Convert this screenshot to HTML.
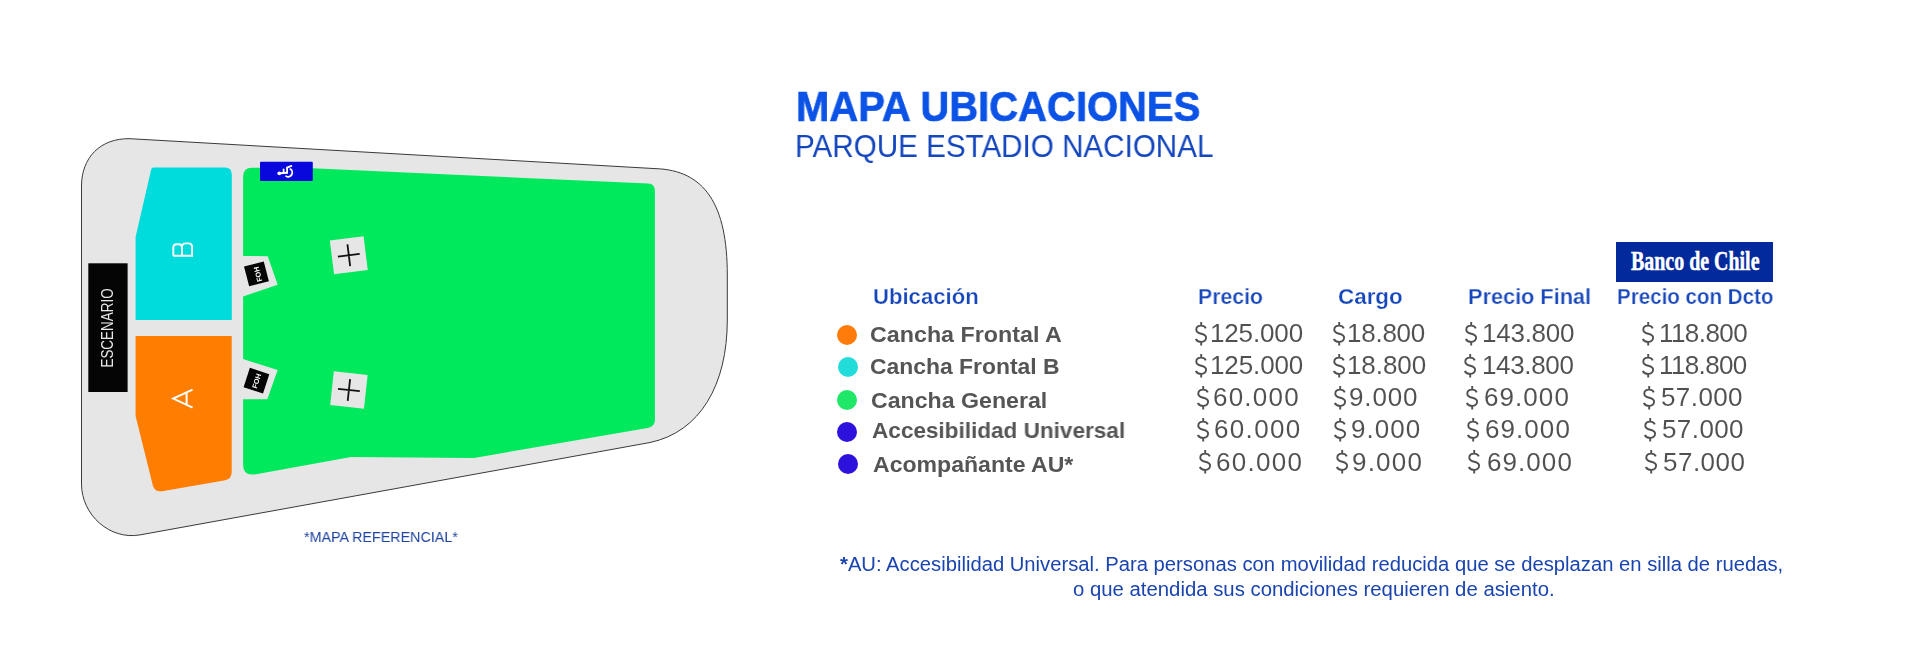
<!DOCTYPE html>
<html><head><meta charset="utf-8"><style>
html,body{margin:0;padding:0;background:#fff;width:1920px;height:647px;overflow:hidden;position:relative}
.t{position:absolute;white-space:nowrap;line-height:1;font-family:"Liberation Sans", sans-serif;transform-origin:0 0;will-change:transform}
.dot{position:absolute;width:20px;height:20px;border-radius:50%}
#banco{position:absolute;left:1616px;top:242px;width:157px;height:40px;background:#032a9c}
#bt{position:absolute;left:1631.2px;top:246.85px;font-family:"Liberation Serif",serif;font-weight:bold;color:#fff;font-size:28px;line-height:1;white-space:nowrap;transform-origin:0 0;transform:scaleX(0.712);-webkit-text-stroke:0.5px #fff}
svg{position:absolute;left:0;top:0}
.dl{position:absolute;overflow:visible}
</style></head><body>
<svg width="760" height="647" viewBox="0 0 760 647" style="will-change:transform">
<path d="M81.5 186 C81.5 158 100 138 130 138.7 L655 168.6 C705 170 727.3 205 727.3 275 L727.3 320 C727.3 385 700 432 650 442.5 L140 534.9 C110 540.3 81.5 515 81.5 484 Z" fill="#e6e6e6" stroke="#3a3a3a" stroke-width="1"/>
<path d="M153.5 167.6 L225 167.6 Q231.8 167.6 231.8 174.5 L231.8 320 L135.6 320 L135.6 237 L150.6 172 Q151.3 167.6 153.5 167.6 Z" fill="#00dbdb"/>
<path d="M135.6 336 L231.7 336 L231.7 472 Q231.7 479.5 224 480.5 L162 491.2 Q155 492.3 153 486 L135.6 416 Z" fill="#ff7d00"/>
<path d="M243.1 177 Q243.1 167.8 252 167.8 L312 168.2 L648 183.6 Q654.9 184 654.9 191 L654.9 420 Q654.9 426.5 647.5 428 L474 458 L351 457 L256 474.2 Q243.1 476.5 243.1 465 L243.1 399.2 L267.3 399.2 L277.7 369.9 L243.1 359.1 L243.1 296.4 L277.7 284.7 L267.7 256.3 L243.1 255.9 Z" fill="#00e85c"/>
<rect x="88.3" y="263.3" width="39.3" height="128.7" fill="#050505"/>
<text x="0" y="0" transform="translate(113.1 328) rotate(-90) scale(0.82 1)" text-anchor="middle" font-family="Liberation Sans" font-size="16.4" fill="#e8e8e8">ESCENARIO</text>
<path d="M173.3 255.8 H192.1 V247 Q192.1 243.4 188.4 243.4 H185.7 Q182 243.4 182 247 V255.8 M182 247.5 Q182 244.2 178.6 244.2 H176.7 Q173.3 244.2 173.3 247.6 V255.8" fill="none" stroke="#fff" stroke-width="1.9"/>
<path d="M192.6 389.7 L173.2 398.6 L192.6 407.6 M186.6 392.3 V404.8" fill="none" stroke="#fff" stroke-width="2" stroke-linejoin="miter"/>
<rect x="260" y="161.7" width="52.8" height="19.2" rx="1" fill="#0808dc"/>
<g fill="none" stroke="#fff" stroke-width="1.8" stroke-linecap="round">
<circle cx="279.3" cy="173.3" r="1.9" fill="#fff" stroke="none"/>
<path d="M280 173.2 L287 172.8" stroke-width="2"/>
<path d="M283.6 169.3 V172.6" stroke-width="1.7"/>
<path d="M287.1 167.6 V172.8"/>
<path d="M287.1 167.6 L291.4 165.9"/>
<path d="M290.4 169.1 A4.2 4.2 0 0 1 286.1 176.3"/>
</g>
<g transform="translate(256.45 273.9) rotate(-14.6)"><rect x="-10.2" y="-10.2" width="20.4" height="20.4" fill="#050505"/></g>
<text x="0" y="0" transform="translate(258 274.2) rotate(-104)" text-anchor="middle" dominant-baseline="central" font-family="Liberation Sans" font-weight="bold" font-size="7.2" fill="#fff">FOH</text>
<g transform="translate(256.45 380.7) rotate(17.9)"><rect x="-10.2" y="-10.2" width="20.4" height="20.4" fill="#050505"/></g>
<text x="0" y="0" transform="translate(256.6 380.9) rotate(-72)" text-anchor="middle" dominant-baseline="central" font-family="Liberation Sans" font-weight="bold" font-size="7.2" fill="#fff">FOH</text>
<g transform="translate(348.8 255.2) rotate(-7.1)"><rect x="-17" y="-17" width="34" height="34" fill="#e6e6e6"/><path d="M-11 0 H11 M0 -11 V11" stroke="#111" stroke-width="1.8"/></g>
<g transform="translate(348.9 390) rotate(6.2)"><rect x="-17" y="-17" width="34" height="34" fill="#e6e6e6"/><path d="M-11 0 H11 M0 -11 V11" stroke="#111" stroke-width="1.8"/></g>
</svg>

<div class="dot" style="left:837.3px;top:324.7px;background:#ff7c0a"></div>
<div class="dot" style="left:837.5px;top:357.2px;background:#22dcdc"></div>
<div class="dot" style="left:837.4px;top:389.7px;background:#1ee866"></div>
<div class="dot" style="left:836.7px;top:421.6px;background:#2c12dc"></div>
<div class="dot" style="left:837.7px;top:453.9px;background:#2c12dc"></div>
<div id="banco"></div><div id="bt">Banco de Chile</div>
<div class="t" id="t0" style="left:795.60px;top:84.54px;font-size:42.6px;color:#0b52e6;font-weight:bold;transform:scaleX(0.9388);letter-spacing:0.000px;-webkit-text-stroke:0.7px #0b52e6">MAPA UBICACIONES</div>
<div class="t" id="t1" style="left:795.43px;top:131.22px;font-size:31.4px;color:#1446be;font-weight:normal;transform:scaleX(0.9431);letter-spacing:0.000px;">PARQUE ESTADIO NACIONAL</div>
<div class="t" id="t2" style="left:873.07px;top:285.98px;font-size:22px;color:#1646bb;font-weight:bold;transform:scaleX(1.0052);letter-spacing:0.000px;-webkit-text-stroke:0.25px #fff">Ubicación</div>
<div class="t" id="t3" style="left:1197.61px;top:285.98px;font-size:22px;color:#1646bb;font-weight:bold;transform:scaleX(0.9657);letter-spacing:0.000px;-webkit-text-stroke:0.25px #fff">Precio</div>
<div class="t" id="t4" style="left:1337.90px;top:285.98px;font-size:22px;color:#1646bb;font-weight:bold;transform:scaleX(1.0179);letter-spacing:0.000px;-webkit-text-stroke:0.25px #fff">Cargo</div>
<div class="t" id="t5" style="left:1467.79px;top:285.98px;font-size:22px;color:#1646bb;font-weight:bold;transform:scaleX(0.9870);letter-spacing:0.000px;-webkit-text-stroke:0.25px #fff">Precio Final</div>
<div class="t" id="t6" style="left:1617.07px;top:285.98px;font-size:22px;color:#1646bb;font-weight:bold;transform:scaleX(0.9343);letter-spacing:0.000px;-webkit-text-stroke:0.25px #fff">Precio con Dcto</div>
<div class="t" id="t7" style="left:869.67px;top:324.27px;font-size:22.6px;color:#555555;font-weight:bold;transform:scaleX(1.0297);letter-spacing:0.000px;">Cancha Frontal A</div>
<div class="t" id="t8" style="left:869.88px;top:356.27px;font-size:22.6px;color:#555555;font-weight:bold;transform:scaleX(1.0138);letter-spacing:0.000px;">Cancha Frontal B</div>
<div class="t" id="t9" style="left:870.87px;top:389.67px;font-size:22.6px;color:#555555;font-weight:bold;transform:scaleX(1.0245);letter-spacing:0.000px;">Cancha General</div>
<div class="t" id="t10" style="left:871.75px;top:420.47px;font-size:22.6px;color:#555555;font-weight:bold;transform:scaleX(0.9978);letter-spacing:0.000px;">Accesibilidad Universal</div>
<div class="t" id="t11" style="left:872.74px;top:453.67px;font-size:22.6px;color:#555555;font-weight:bold;transform:scaleX(1.0207);letter-spacing:0.000px;">Acompañante AU*</div>
<div class="t" id="t12" style="left:1210.05px;top:319.59px;font-size:26px;color:#505050;font-weight:normal;transform:scaleX(1.0000);letter-spacing:-0.149px;-webkit-text-stroke:0.05px #fff">125.000</div>
<div class="t" id="t13" style="left:1210.25px;top:351.99px;font-size:26px;color:#505050;font-weight:normal;transform:scaleX(1.0000);letter-spacing:-0.116px;-webkit-text-stroke:0.05px #fff">125.000</div>
<div class="t" id="t14" style="left:1213.10px;top:384.39px;font-size:26px;color:#505050;font-weight:normal;transform:scaleX(1.0000);letter-spacing:1.223px;-webkit-text-stroke:0.05px #fff">60.000</div>
<div class="t" id="t15" style="left:1213.50px;top:415.79px;font-size:26px;color:#505050;font-weight:normal;transform:scaleX(1.0000);letter-spacing:1.343px;-webkit-text-stroke:0.05px #fff">60.000</div>
<div class="t" id="t16" style="left:1215.50px;top:448.99px;font-size:26px;color:#505050;font-weight:normal;transform:scaleX(1.0000);letter-spacing:1.303px;-webkit-text-stroke:0.05px #fff">60.000</div>
<div class="t" id="t17" style="left:1347.45px;top:319.59px;font-size:26px;color:#505050;font-weight:normal;transform:scaleX(1.0000);letter-spacing:-0.247px;-webkit-text-stroke:0.05px #fff">18.800</div>
<div class="t" id="t18" style="left:1346.85px;top:351.99px;font-size:26px;color:#505050;font-weight:normal;transform:scaleX(1.0000);letter-spacing:-0.087px;-webkit-text-stroke:0.05px #fff">18.800</div>
<div class="t" id="t19" style="left:1349.23px;top:384.39px;font-size:26px;color:#505050;font-weight:normal;transform:scaleX(1.0000);letter-spacing:0.862px;-webkit-text-stroke:0.05px #fff">9.000</div>
<div class="t" id="t20" style="left:1350.63px;top:415.79px;font-size:26px;color:#505050;font-weight:normal;transform:scaleX(1.0000);letter-spacing:1.012px;-webkit-text-stroke:0.05px #fff">9.000</div>
<div class="t" id="t21" style="left:1351.63px;top:448.99px;font-size:26px;color:#505050;font-weight:normal;transform:scaleX(1.0000);letter-spacing:1.212px;-webkit-text-stroke:0.05px #fff">9.000</div>
<div class="t" id="t22" style="left:1482.25px;top:319.59px;font-size:26px;color:#505050;font-weight:normal;transform:scaleX(1.0000);letter-spacing:-0.249px;-webkit-text-stroke:0.05px #fff">143.800</div>
<div class="t" id="t23" style="left:1481.65px;top:351.99px;font-size:26px;color:#505050;font-weight:normal;transform:scaleX(1.0000);letter-spacing:-0.349px;-webkit-text-stroke:0.05px #fff">143.800</div>
<div class="t" id="t24" style="left:1483.50px;top:384.39px;font-size:26px;color:#505050;font-weight:normal;transform:scaleX(1.0000);letter-spacing:1.063px;-webkit-text-stroke:0.05px #fff">69.000</div>
<div class="t" id="t25" style="left:1484.90px;top:415.79px;font-size:26px;color:#505050;font-weight:normal;transform:scaleX(1.0000);letter-spacing:1.063px;-webkit-text-stroke:0.05px #fff">69.000</div>
<div class="t" id="t26" style="left:1486.50px;top:448.99px;font-size:26px;color:#505050;font-weight:normal;transform:scaleX(1.0000);letter-spacing:1.063px;-webkit-text-stroke:0.05px #fff">69.000</div>
<div class="t" id="t27" style="left:1659.25px;top:319.59px;font-size:26px;color:#505050;font-weight:normal;transform:scaleX(1.0000);letter-spacing:-0.561px;-webkit-text-stroke:0.05px #fff">118.800</div>
<div class="t" id="t28" style="left:1658.65px;top:351.99px;font-size:26px;color:#505050;font-weight:normal;transform:scaleX(1.0000);letter-spacing:-0.627px;-webkit-text-stroke:0.05px #fff">118.800</div>
<div class="t" id="t29" style="left:1660.56px;top:384.39px;font-size:26px;color:#505050;font-weight:normal;transform:scaleX(1.0000);letter-spacing:0.411px;-webkit-text-stroke:0.05px #fff">57.000</div>
<div class="t" id="t30" style="left:1661.96px;top:415.79px;font-size:26px;color:#505050;font-weight:normal;transform:scaleX(1.0000);letter-spacing:0.411px;-webkit-text-stroke:0.05px #fff">57.000</div>
<div class="t" id="t31" style="left:1662.96px;top:448.99px;font-size:26px;color:#505050;font-weight:normal;transform:scaleX(1.0000);letter-spacing:0.491px;-webkit-text-stroke:0.05px #fff">57.000</div>
<div class="t" id="t32" style="left:839.95px;top:554.69px;font-size:19.5px;color:#1a44b0;font-weight:normal;transform:scaleX(1.0371);letter-spacing:0.000px;"><b>*</b>AU: Accesibilidad Universal. Para personas con movilidad reducida que se desplazan en silla de ruedas,</div>
<div class="t" id="t33" style="left:1073.19px;top:579.69px;font-size:19.5px;color:#1a44b0;font-weight:normal;transform:scaleX(1.0428);letter-spacing:0.000px;">o que atendida sus condiciones requieren de asiento.</div>
<div class="t" id="t34" style="left:303.79px;top:528.85px;font-size:15.3px;color:#1e449f;font-weight:normal;transform:scaleX(0.9342);letter-spacing:0.000px;">*MAPA REFERENCIAL*</div>
<svg width="0" height="0" style="position:absolute"><defs><symbol id="dl" viewBox="0 0 13 24" overflow="visible"><path d="M6.2 0V3.6M6.2 19.8V23.4M10.8 6.3C9.9 4.5 8.3 3.6 6.2 3.6C3.3 3.6 1.3 5.3 1.3 7.7C1.3 13.3 11.1 10.2 11.1 15.6C11.1 18.2 8.9 19.9 6.1 19.9C3.5 19.9 1.6 18.8 0.8 17" fill="none" stroke="#505050" stroke-width="1.9"/></symbol></defs></svg><svg class="dl" style="left:1195.2px;top:321.5px" width="13" height="24"><use href="#dl"/></svg><svg class="dl" style="left:1195.0px;top:353.6px" width="13" height="24"><use href="#dl"/></svg><svg class="dl" style="left:1196.5px;top:386.2px" width="13" height="24"><use href="#dl"/></svg><svg class="dl" style="left:1197.1px;top:417.8px" width="13" height="24"><use href="#dl"/></svg><svg class="dl" style="left:1198.6px;top:450.1px" width="13" height="24"><use href="#dl"/></svg><svg class="dl" style="left:1332.6px;top:321.5px" width="13" height="24"><use href="#dl"/></svg><svg class="dl" style="left:1332.7px;top:353.6px" width="13" height="24"><use href="#dl"/></svg><svg class="dl" style="left:1333.8px;top:386.2px" width="13" height="24"><use href="#dl"/></svg><svg class="dl" style="left:1334.3px;top:417.8px" width="13" height="24"><use href="#dl"/></svg><svg class="dl" style="left:1335.8px;top:450.1px" width="13" height="24"><use href="#dl"/></svg><svg class="dl" style="left:1464.7px;top:321.5px" width="13" height="24"><use href="#dl"/></svg><svg class="dl" style="left:1464.4px;top:353.6px" width="13" height="24"><use href="#dl"/></svg><svg class="dl" style="left:1465.7px;top:386.2px" width="13" height="24"><use href="#dl"/></svg><svg class="dl" style="left:1466.6px;top:417.8px" width="13" height="24"><use href="#dl"/></svg><svg class="dl" style="left:1468.0px;top:450.1px" width="13" height="24"><use href="#dl"/></svg><svg class="dl" style="left:1641.7px;top:321.5px" width="13" height="24"><use href="#dl"/></svg><svg class="dl" style="left:1641.7px;top:353.6px" width="13" height="24"><use href="#dl"/></svg><svg class="dl" style="left:1643.0px;top:386.2px" width="13" height="24"><use href="#dl"/></svg><svg class="dl" style="left:1643.9px;top:417.8px" width="13" height="24"><use href="#dl"/></svg><svg class="dl" style="left:1644.9px;top:450.1px" width="13" height="24"><use href="#dl"/></svg>
</body></html>
